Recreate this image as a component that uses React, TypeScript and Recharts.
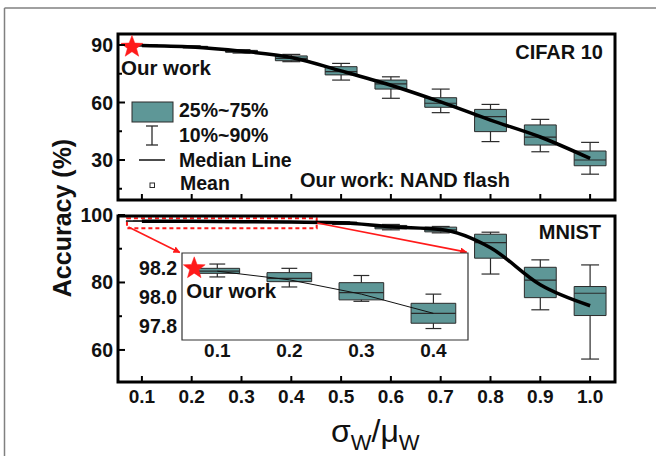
import React from "react";
import {
  ComposedChart,
  Line,
  XAxis,
  YAxis,
  ReferenceArea,
  ReferenceLine,
  Scatter,
} from "recharts";

// ---------- data ----------
const X_VALUES = [0.1, 0.2, 0.3, 0.4, 0.5, 0.6, 0.7, 0.8, 0.9, 1.0];
const X_TICK_LABELS = ["0.1", "0.2", "0.3", "0.4", "0.5", "0.6", "0.7", "0.8", "0.9", "1.0"];

// CIFAR 10 accuracy (%) distribution per sigma/mu
const CIFAR_P10 = [89.4, 88.5, 85.8, 81.3, 71.7, 62.2, 54.7, 39.6, 34.3, 22.6];
const CIFAR_Q1 = [89.6, 88.8, 86.2, 81.8, 74.4, 67.0, 57.5, 44.8, 37.8, 27.0];
const CIFAR_MED = [89.8, 89.0, 86.7, 83.0, 76.1, 69.7, 59.6, 52.6, 41.9, 30.0];
const CIFAR_Q3 = [90.0, 89.3, 87.2, 84.3, 78.7, 71.7, 62.5, 56.4, 48.3, 34.7];
const CIFAR_P90 = [90.2, 89.6, 87.6, 85.1, 80.4, 73.4, 67.0, 59.0, 51.2, 39.2];
const CIFAR_MEAN = [89.8, 89.0, 86.8, 83.5, 76.5, 69.0, 60.3, 50.8, 42.0, 30.8];

// MNIST accuracy (%) distribution per sigma/mu
const MNIST_P10 = [98.14, 98.07, 97.97, 97.78, 97.2, 95.6, 94.7, 82.5, 71.9, 57.3];
const MNIST_Q1 = [98.165, 98.107, 97.98, 97.817, 97.5, 95.9, 95.0, 87.2, 75.5, 70.2];
const MNIST_MED = [98.18, 98.13, 98.03, 97.886, 97.7, 96.4, 95.6, 91.8, 80.7, 76.8];
const MNIST_Q3 = [98.2, 98.17, 98.1, 97.956, 97.9, 96.9, 96.4, 94.3, 84.5, 78.8];
const MNIST_P90 = [98.23, 98.2, 98.15, 98.02, 98.0, 97.2, 96.6, 94.9, 86.7, 85.2];
const MNIST_MEAN = [98.18, 98.12, 98.02, 97.886, 97.7, 96.5, 95.7, 90.3, 79.3, 73.1];

// inset shows the first four MNIST points
const INSET_COUNT = 4;
const INSET_TICK_LABELS = ["0.1", "0.2", "0.3", "0.4"];

// "Our work" reference points
const STAR_CIFAR = [{ x: 0.08, y: 89.0 }];
const STAR_INSET = [{ x: 0.068, y: 98.2 }];

// y ticks
const TOP_Y_TICKS = [15, 30, 45, 60, 75, 90];
const TOP_Y_LABELS = [30, 60, 90];
const BOT_Y_TICKS = [60, 70, 80, 90, 100];
const BOT_Y_LABELS = [60, 80, 100];
const INSET_Y_TICKS = [97.8, 98.0, 98.2];

// zoom annotation (dashed region and arrows in MNIST panel)
const ZOOM_REGION = { x1: 0.07, x2: 0.451, y1: 96.05, y2: 99.0 };
const ARROWS = [
  [{ x: 0.073, y: 96.45 }, { x: 0.176, y: 88.9 }],
  [{ x: 0.452, y: 97.6 }, { x: 0.752, y: 89.0 }],
];

// ---------- style ----------
const FONT = "'Liberation Sans', Arial, Helvetica, sans-serif";
const TEAL = "#5e9797";
const EDGE = "#2b2b2b";
const X_DOMAIN: [number, number] = [0.052, 1.05];
const TOP_DOMAIN: [number, number] = [9.13, 95.74];
const BOT_DOMAIN: [number, number] = [50.5, 99.7];
const INSET_X_DOMAIN: [number, number] = [0.051, 0.448];
const INSET_Y_DOMAIN: [number, number] = [97.7, 98.307];

const near = (a: number, b: number) => Math.abs(a - b) < 1e-6;

function boxElements(
  prefix: string,
  xs: number[],
  p10: number[],
  q1: number[],
  med: number[],
  q3: number[],
  p90: number[],
  half: number,
  cap: number
) {
  const out: React.ReactNode[] = [];
  xs.forEach((x, i) => {
    const k = `${prefix}-${i}`;
    out.push(
      <ReferenceLine key={k + "wu"} segment={[{ x, y: q3[i] }, { x, y: p90[i] }]} stroke={EDGE} strokeWidth={1.2} ifOverflow="visible" />,
      <ReferenceLine key={k + "wd"} segment={[{ x, y: q1[i] }, { x, y: p10[i] }]} stroke={EDGE} strokeWidth={1.2} ifOverflow="visible" />,
      <ReferenceLine key={k + "cu"} segment={[{ x: x - cap, y: p90[i] }, { x: x + cap, y: p90[i] }]} stroke={EDGE} strokeWidth={1.2} ifOverflow="visible" />,
      <ReferenceLine key={k + "cd"} segment={[{ x: x - cap, y: p10[i] }, { x: x + cap, y: p10[i] }]} stroke={EDGE} strokeWidth={1.2} ifOverflow="visible" />,
      <ReferenceArea key={k + "b"} x1={x - half} x2={x + half} y1={q1[i]} y2={q3[i]} fill={TEAL} fillOpacity={1} stroke={EDGE} strokeWidth={1} ifOverflow="visible" />,
      <ReferenceLine key={k + "m"} segment={[{ x: x - half, y: med[i] }, { x: x + half, y: med[i] }]} stroke={EDGE} strokeWidth={1.2} ifOverflow="visible" />
    );
  });
  return out;
}

const makeXTick = (showLabel: boolean, len: number) => (props: any) => {
  const { x, y, payload } = props;
  const idx = X_VALUES.findIndex((v) => near(v, payload.value));
  const label = idx >= 0 ? X_TICK_LABELS[idx] : String(payload.value);
  return (
    <g>
      {len > 0 && <line x1={x} x2={x} y1={y} y2={y - len} stroke="#000" strokeWidth={2} />}
      {showLabel && (
        <text x={x} y={y + 21} textAnchor="middle" fontFamily={FONT} fontWeight="bold" fontSize={19} fill="#111">
          {label}
        </text>
      )}
    </g>
  );
};

const makeYTick = (labels: number[], fmt: (v: number) => string, major: number, minor: number) => (props: any) => {
  const { x, y, payload } = props;
  const isMajor = labels.some((l) => near(l, payload.value));
  const len = isMajor ? major : minor;
  return (
    <g>
      {len > 0 && <line x1={x} x2={x + len} y1={y} y2={y} stroke="#000" strokeWidth={2} />}
      {isMajor && (
        <text x={x - 5} y={y} dy="0.36em" textAnchor="end" fontFamily={FONT} fontWeight="bold" fontSize={19.5} fill="#111">
          {fmt(payload.value)}
        </text>
      )}
    </g>
  );
};

const makeStar = (textDx: number, textDy: number) => (props: any) => {
  const { cx, cy } = props;
  const pts: string[] = [];
  for (let i = 0; i < 10; i++) {
    const r = i % 2 === 0 ? 11.5 : 4.8;
    const a = -Math.PI / 2 + (i * Math.PI) / 5;
    pts.push(`${cx + r * Math.cos(a)},${cy + r * Math.sin(a)}`);
  }
  return (
    <g>
      <polygon points={pts.join(" ")} fill="#ff1a1a" stroke="#ff1a1a" strokeWidth={0.5} />
      <text x={cx + textDx} y={cy + textDy} fontFamily={FONT} fontWeight="bold" fontSize={20.5} fill="#111">
        Our work
      </text>
    </g>
  );
};

const cifarRows = X_VALUES.map((x, i) => ({ x, mean: CIFAR_MEAN[i] }));
const mnistRows = X_VALUES.map((x, i) => ({ x, mean: MNIST_MEAN[i] }));
const insetRows = X_VALUES.slice(0, INSET_COUNT).map((x, i) => ({ x, mean: MNIST_MEAN[i] }));

const abs: React.CSSProperties = { position: "absolute", left: 0, top: 0 };

export default function App() {
  return (
    <div style={{ position: "absolute", left: 0, top: 0, width: 656, height: 456, background: "#fff", overflow: "hidden" }}>
      {/* CIFAR 10 panel */}
      <div style={abs}>
        <ComposedChart width={656} height={456} data={cifarRows} margin={{ top: 34, right: 41, bottom: 226, left: 0 }}>
          <XAxis dataKey="x" type="number" domain={X_DOMAIN} ticks={X_VALUES} allowDataOverflow axisLine={false} tickLine={false} tickSize={0} tickMargin={0} height={30} tick={makeXTick(false, 6)} />
          <YAxis type="number" domain={TOP_DOMAIN} ticks={TOP_Y_TICKS} allowDataOverflow axisLine={false} tickLine={false} tickSize={0} tickMargin={0} width={118} tick={makeYTick(TOP_Y_LABELS, (v) => String(v), 7, 4)} />
          {boxElements("c", X_VALUES, CIFAR_P10, CIFAR_Q1, CIFAR_MED, CIFAR_Q3, CIFAR_P90, 0.032, 0.018)}
          <Line type="monotone" dataKey="mean" stroke="#000" strokeWidth={3.5} dot={false} isAnimationActive={false} />
          <Scatter data={STAR_CIFAR} dataKey="y" shape={makeStar(-11, 28)} isAnimationActive={false} />
          <ReferenceArea x1={X_DOMAIN[0]} x2={X_DOMAIN[1]} y1={TOP_DOMAIN[0]} y2={TOP_DOMAIN[1]} fill="none" fillOpacity={0} stroke="#000" strokeWidth={3} ifOverflow="visible" />
        </ComposedChart>
      </div>

      {/* MNIST panel */}
      <div style={abs}>
        <ComposedChart width={656} height={456} data={mnistRows} margin={{ top: 216, right: 41, bottom: 44, left: 0 }}>
          <XAxis dataKey="x" type="number" domain={X_DOMAIN} ticks={X_VALUES} allowDataOverflow axisLine={false} tickLine={false} tickSize={0} tickMargin={0} height={30} tick={makeXTick(true, 6)} />
          <YAxis type="number" domain={BOT_DOMAIN} ticks={BOT_Y_TICKS} allowDataOverflow axisLine={false} tickLine={false} tickSize={0} tickMargin={0} width={118} tick={makeYTick(BOT_Y_LABELS, (v) => String(v), 7, 4)} />
          {boxElements("m", X_VALUES, MNIST_P10, MNIST_Q1, MNIST_MED, MNIST_Q3, MNIST_P90, 0.032, 0.018)}
          <Line type="monotone" dataKey="mean" stroke="#000" strokeWidth={3.5} dot={false} isAnimationActive={false} />
          <ReferenceArea x1={ZOOM_REGION.x1} x2={ZOOM_REGION.x2} y1={ZOOM_REGION.y1} y2={ZOOM_REGION.y2} fill="none" fillOpacity={0} stroke="#ff1a1a" strokeWidth={2} strokeDasharray="4 3" ifOverflow="visible" />
          {ARROWS.map((seg, i) => (
            <ReferenceLine key={"arr" + i} segment={seg} stroke="#ff1a1a" strokeWidth={1.6} markerEnd="url(#redArrow)" ifOverflow="visible" />
          ))}
          <ReferenceArea x1={X_DOMAIN[0]} x2={X_DOMAIN[1]} y1={BOT_DOMAIN[0]} y2={BOT_DOMAIN[1]} fill="none" fillOpacity={0} stroke="#000" strokeWidth={3} ifOverflow="visible" />
        </ComposedChart>
      </div>

      {/* inset */}
      <div style={abs}>
        <ComposedChart width={656} height={456} data={insetRows} margin={{ top: 253, right: 188, bottom: 86, left: 0 }}>
          <XAxis dataKey="x" type="number" domain={INSET_X_DOMAIN} ticks={X_VALUES.slice(0, INSET_COUNT)} allowDataOverflow axisLine={false} tickLine={false} tickSize={0} tickMargin={0} height={30} tick={(p: any) => {
            const idx = X_VALUES.findIndex((v) => near(v, p.payload.value));
            return (
              <text x={p.x} y={p.y + 17} textAnchor="middle" fontFamily={FONT} fontWeight="bold" fontSize={19} fill="#111">
                {INSET_TICK_LABELS[idx]}
              </text>
            );
          }} />
          <YAxis type="number" domain={INSET_Y_DOMAIN} ticks={INSET_Y_TICKS} allowDataOverflow axisLine={false} tickLine={false} tickSize={0} tickMargin={0} width={182} tick={makeYTick(INSET_Y_TICKS, (v) => v.toFixed(1), 0, 0)} />
          <ReferenceArea x1={INSET_X_DOMAIN[0]} x2={INSET_X_DOMAIN[1]} y1={INSET_Y_DOMAIN[0]} y2={INSET_Y_DOMAIN[1]} fill="#fff" fillOpacity={1} stroke="#333" strokeWidth={1.2} ifOverflow="visible" />
          {boxElements(
            "i",
            X_VALUES.slice(0, INSET_COUNT),
            MNIST_P10.slice(0, INSET_COUNT),
            MNIST_Q1.slice(0, INSET_COUNT),
            MNIST_MED.slice(0, INSET_COUNT),
            MNIST_Q3.slice(0, INSET_COUNT),
            MNIST_P90.slice(0, INSET_COUNT),
            0.031,
            0.011
          )}
          <Line type="linear" dataKey="mean" stroke="#111" strokeWidth={1} dot={false} isAnimationActive={false} />
          <Scatter data={STAR_INSET} dataKey="y" shape={makeStar(-8, 30)} isAnimationActive={false} />
        </ComposedChart>
      </div>

      {/* texts, legend, frame */}
      <svg width={656} height={456} style={{ ...abs, pointerEvents: "none" }}>
        <defs>
          <marker id="redArrow" viewBox="0 0 10 10" refX="9" refY="5" markerWidth="7" markerHeight="7" orient="auto" markerUnits="userSpaceOnUse">
            <path d="M0,0 L10,5 L0,10 z" fill="#ff1a1a" />
          </marker>
        </defs>
        <line x1={4.5} y1={8} x2={656} y2={8} stroke="#808080" strokeWidth={1.5} />
        <line x1={4.5} y1={8} x2={4.5} y2={456} stroke="#808080" strokeWidth={1.5} />

        <g fontFamily={FONT} fontWeight="bold" fill="#111">
          <text x={603} y={59} fontSize={20} textAnchor="end">CIFAR 10</text>
          <text x={601} y={239} fontSize={20} textAnchor="end">MNIST</text>
          <text x={300} y={187} fontSize={20}>Our work: NAND flash</text>

          <text x={179} y={117} fontSize={19.5}>25%~75%</text>
          <text x={179} y={141.5} fontSize={19.5}>10%~90%</text>
          <text x={179} y={166.5} fontSize={19.5}>Median Line</text>
          <text x={180} y={190} fontSize={19.5}>Mean</text>

          <text x={0} y={0} fontSize={25} textAnchor="middle" dominantBaseline="central" transform="translate(62,218) rotate(-90)">
            Accuracy (%)
          </text>
        </g>

        <rect x={132} y={102} width={41} height={20} fill={TEAL} stroke={EDGE} strokeWidth={1} />
        <line x1={152} y1={126} x2={152} y2={145} stroke={EDGE} strokeWidth={1.3} />
        <line x1={146} y1={126} x2={158} y2={126} stroke={EDGE} strokeWidth={1.3} />
        <line x1={146} y1={145} x2={158} y2={145} stroke={EDGE} strokeWidth={1.3} />
        <line x1={139} y1={160} x2={165} y2={160} stroke="#111" strokeWidth={1.5} />
        <rect x={150} y={183} width={4.5} height={4.5} fill="none" stroke={EDGE} strokeWidth={1} />

        <text x={331} y={442} fontFamily={FONT} fill="#111">
          <tspan fontSize={32}>σ</tspan>
          <tspan fontSize={22} dy={8}>W</tspan>
          <tspan fontSize={32} dy={-8}>/μ</tspan>
          <tspan fontSize={22} dy={8}>W</tspan>
        </text>
      </svg>
    </div>
  );
}
